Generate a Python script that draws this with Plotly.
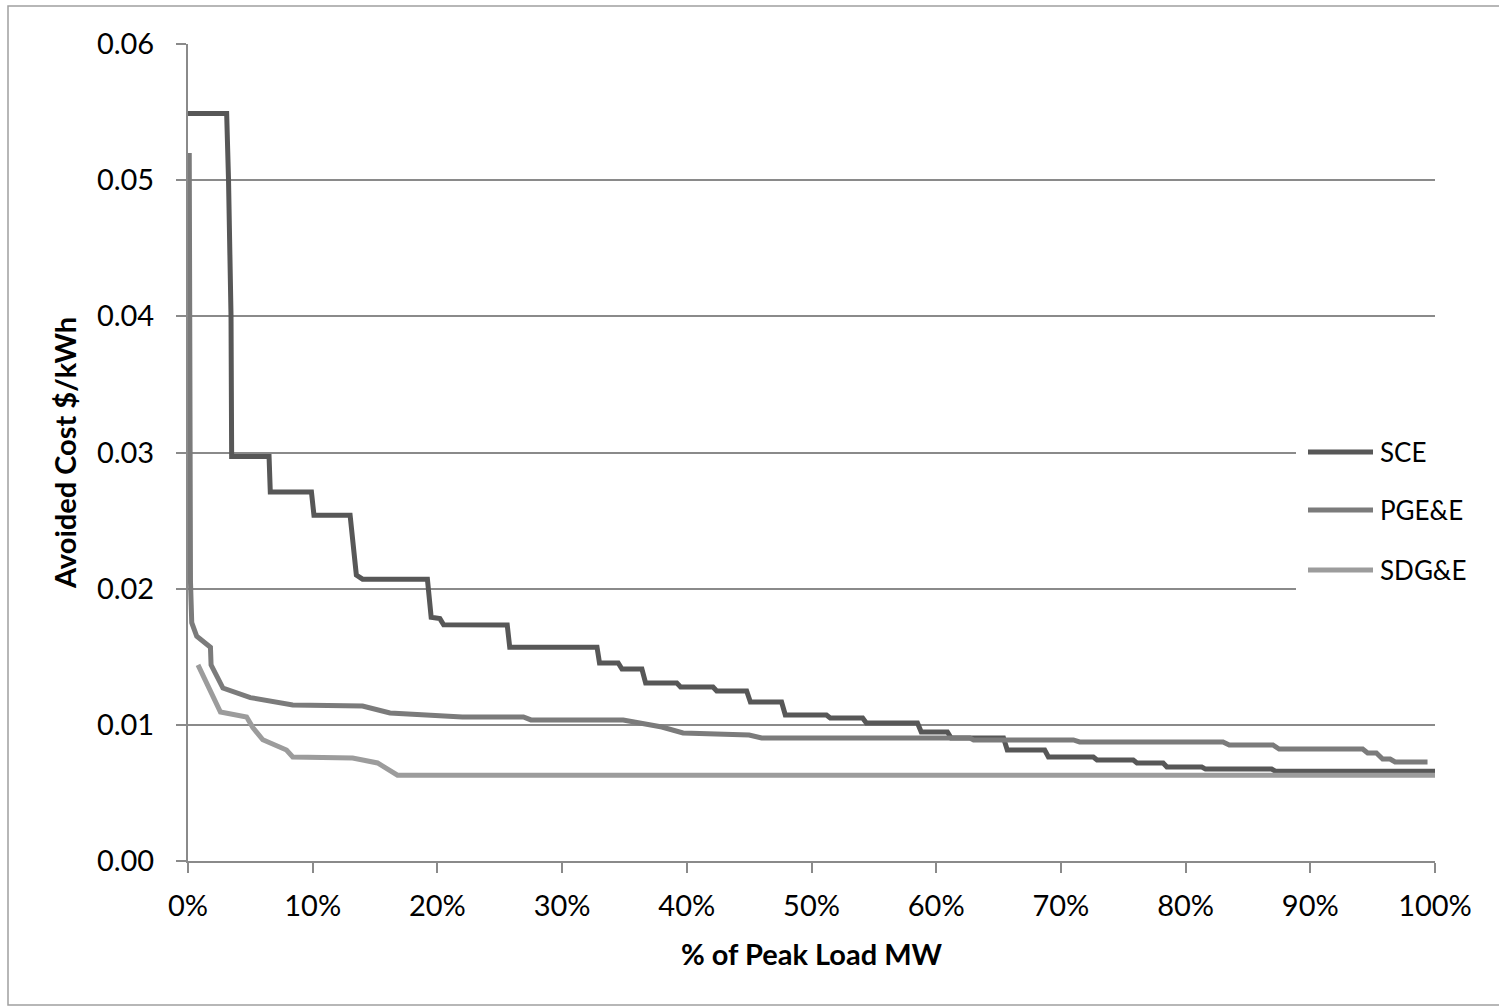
import plotly.graph_objects as go

# x: % of peak load MW, y: avoided cost $/kWh
sce_x = [0, 3.1, 3.25, 3.45, 3.5, 6.5, 6.6, 9.9, 10.1, 13.0, 13.5, 14.0, 19.2, 19.5, 20.2, 20.5,
         25.6, 25.8, 32.8, 33.0, 34.5, 34.8, 36.4, 36.7, 39.2, 39.5, 42.1, 42.4, 44.8, 45.1,
         47.6, 47.9, 51.2, 51.5, 54.1, 54.4, 58.5, 58.8, 60.9, 61.2, 65.4, 65.7, 68.7, 69.0,
         72.6, 72.9, 75.8, 76.1, 78.2, 78.5, 81.3, 81.6, 86.9, 87.2, 100]
sce_y = [0.0549, 0.0549, 0.0500, 0.0400, 0.0297, 0.0297, 0.0271, 0.0271, 0.0254, 0.0254, 0.0210,
         0.0207, 0.0207, 0.0179, 0.0178, 0.01735, 0.01733, 0.0157, 0.0157, 0.01454, 0.01454,
         0.0141, 0.0141, 0.01307, 0.01307, 0.01278, 0.01278, 0.01248, 0.01248, 0.01168, 0.01168,
         0.01072, 0.01072, 0.0105, 0.0105, 0.01013, 0.01013, 0.00947, 0.00947, 0.00903, 0.00903,
         0.00815, 0.00815, 0.00764, 0.00764, 0.00742, 0.00742, 0.0072, 0.0072, 0.0069, 0.0069,
         0.00675, 0.00675, 0.0066, 0.0066]

pge_x = [0.1, 0.15, 0.2, 0.3, 0.7, 1.8, 1.85, 2.8, 5.0, 8.4, 14.0, 16.2, 22.0, 26.9, 27.5, 34.9,
         38.0, 39.7, 45.0, 46.0, 62.7, 63.0, 71.0, 71.5, 83.0, 83.5, 87.0, 87.5, 94.2, 94.6,
         95.3, 95.8, 96.4, 96.8, 99.4]
pge_y = [0.0520, 0.0300, 0.0205, 0.0175, 0.0165, 0.0157, 0.0144, 0.0127, 0.0120, 0.01146,
         0.01138, 0.01087, 0.01058, 0.01058, 0.01036, 0.01036, 0.00984, 0.0094, 0.00925, 0.00903,
         0.00903, 0.00889, 0.00889, 0.00874, 0.00874, 0.00852, 0.00852, 0.00822, 0.00822,
         0.00793, 0.00793, 0.00749, 0.00749, 0.00727, 0.00727]

sdg_x = [0.8, 2.6, 4.7, 5.2, 6.0, 7.9, 8.4, 13.2, 15.2, 16.4, 16.8, 100]
sdg_y = [0.0144, 0.01094, 0.01058, 0.0098, 0.0089, 0.00815, 0.00764, 0.00756, 0.0072, 0.00646,
         0.0063, 0.0063]

series_names = ["SCE", "PGE&E", "SDG&E"]
series_colors = ["#575757", "#7b7b7b", "#9c9c9c"]
y_ticks = [0, 0.01, 0.02, 0.03, 0.04, 0.05, 0.06]
x_ticks = [0, 10, 20, 30, 40, 50, 60, 70, 80, 90, 100]
x_ticklabels = ["0%", "10%", "20%", "30%", "40%", "50%", "60%", "70%", "80%", "90%", "100%"]

FONT = "Lato"
grid_col = "#8a8a8a"

fig = go.Figure()
for name, xs, ys, col in zip(series_names, [sce_x, pge_x, sdg_x], [sce_y, pge_y, sdg_y], series_colors):
    fig.add_trace(go.Scatter(x=xs, y=ys, mode="lines", name=name, showlegend=False,
                             line=dict(color=col, width=5)))

# plot area in pixels: x 188..1435, y 44..861
def px_x(p):
    return (p - 188) / 1247.0

def px_y(p):
    return (861 - p) / 817.0

shapes = [
    dict(type="rect", xref="paper", yref="paper",
         x0=px_x(8), x1=px_x(1510), y0=px_y(1005), y1=px_y(6),
         line=dict(color="#a0a0a0", width=1.5), layer="below"),
    # legend background
    dict(type="rect", xref="paper", yref="paper",
         x0=px_x(1296), x1=px_x(1437), y0=px_y(600), y1=px_y(425),
         fillcolor="white", line=dict(width=0), layer="above"),
]
annotations = []
legend_rows = [452, 510, 570]
for name, col, row in zip(series_names, series_colors, legend_rows):
    shapes.append(dict(type="line", xref="paper", yref="paper",
                       x0=px_x(1308), x1=px_x(1373), y0=px_y(row), y1=px_y(row),
                       line=dict(color=col, width=5), layer="above"))
    annotations.append(dict(text=name, xref="paper", yref="paper", x=px_x(1378), y=px_y(row),
                            xanchor="left", yanchor="middle", showarrow=False,
                            font=dict(size=26, family=FONT, color="black")))

fig.update_layout(
    width=1499, height=1008, autosize=False,
    margin=dict(l=188, r=64, t=44, b=147),
    paper_bgcolor="white", plot_bgcolor="white",
    font=dict(family=FONT, color="black", size=29),
    showlegend=False,
    shapes=shapes, annotations=annotations,
)
fig.update_xaxes(range=[0, 100], tickvals=x_ticks, ticktext=x_ticklabels,
                 showgrid=False, showline=True, linecolor=grid_col, linewidth=2,
                 ticks="outside", ticklen=10, tickwidth=2, tickcolor=grid_col,
                 ticklabelstandoff=8, zeroline=False,
                 title=dict(text="<b>% of Peak Load MW</b>", font=dict(size=29, family=FONT), standoff=24))
fig.update_yaxes(range=[0, 0.06], tickvals=y_ticks, tickformat=".2f",
                 showgrid=True, gridcolor=grid_col, gridwidth=2,
                 showline=True, linecolor=grid_col, linewidth=2,
                 ticks="outside", ticklen=10, tickwidth=2, tickcolor=grid_col,
                 ticklabelstandoff=16, zeroline=False,
                 title=dict(text="<b>Avoided Cost $/kWh</b>", font=dict(size=29, family=FONT), standoff=12))

fig.write_html("out.html")
